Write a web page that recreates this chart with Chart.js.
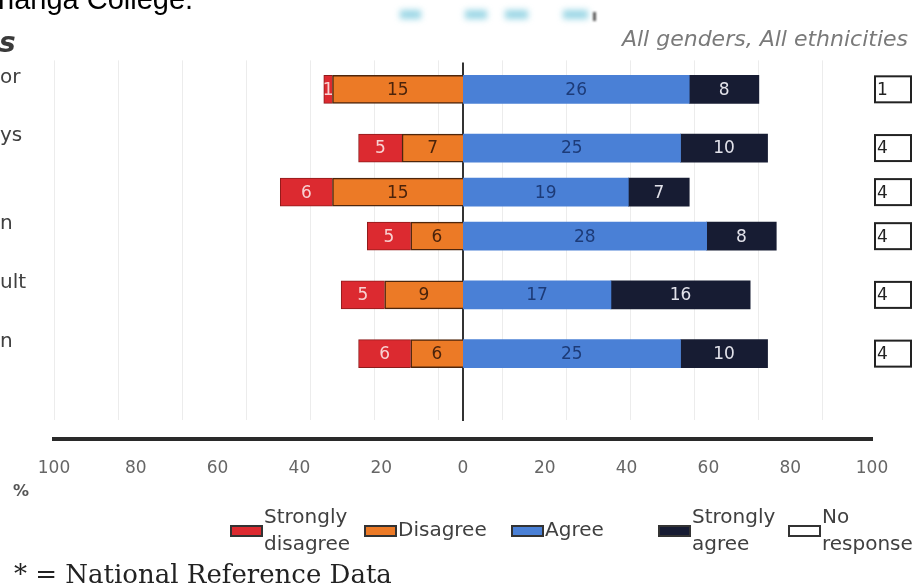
<!DOCTYPE html>
<html>
<head>
<meta charset="utf-8">
<script src="https://cdn.jsdelivr.net/npm/chart.js@4/dist/chart.umd.min.js"></script>
<style>
  html, body { margin: 0; padding: 0; background: #ffffff; }
  #wrap { width: 924px; height: 588px; position: relative; }
</style>
</head>
<body>
<div id="wrap"><canvas id="chart" width="924" height="588"></canvas></div>
<script>
// ---- data -------------------------------------------------------------
const categories = ['or', 'ys', '', 'n', 'ult', 'n'];
const stronglyDisagree = [1, 5, 6, 5, 5, 6];
const disagree = [15, 7, 15, 6, 9, 6];
const agree = [26, 25, 19, 28, 17, 25];
const stronglyAgree = [8, 10, 7, 8, 16, 10];
const noResponse = [1, 4, 4, 4, 4, 4];
const tickValues = [-100, -80, -60, -40, -20, 0, 20, 40, 60, 80, 100];
const legendLabels = [['Strongly', 'disagree'], ['Disagree'], ['Agree'], ['Strongly', 'agree'], ['No', 'response']];

// ---- layout & style ---------------------------------------------------
// vertical slot of each row (rows with longer captions sit further apart)
const rowSlot = [0, 4, 7, 10, 14, 18];
const SANS = '"DejaVu Sans", "Open Sans", sans-serif';

const colors = {
  stronglyDisagree: { fill: '#dc2a30', edge: '#8e1b1b', text: '#f8d2d2' },
  disagree:         { fill: '#ec7a26', edge: '#4e260c', text: '#4a230b' },
  agree:            { fill: '#4a80d6', edge: '#4a80d6', text: '#1d3b78' },
  stronglyAgree:    { fill: '#171c33', edge: '#171c33', text: '#e2e2ea' },
  noResponse:       { fill: '#ffffff', edge: '#222222', text: '#222222' }
};

const toPoints = (vals, sign) => vals.map((v, i) => ({ x: sign * v, y: rowSlot[i] }));

function barSet(label, vals, sign, c, border) {
  return {
    label,
    data: toPoints(vals, sign),
    backgroundColor: c.fill,
    borderColor: c.edge,
    borderWidth: border,
    textColor: c.text,
    barThickness: 28
  };
}

// negative side stacks outward from zero: Disagree first, then Strongly disagree
const datasets = [
  barSet('Disagree', disagree, -1, colors.disagree, 1.5),
  barSet('Strongly disagree', stronglyDisagree, -1, colors.stronglyDisagree, 1),
  barSet('Agree', agree, 1, colors.agree, 0),
  barSet('Strongly agree', stronglyAgree, 1, colors.stronglyAgree, 0)
];

// ---- drawing helpers --------------------------------------------------
const decorations = {
  id: 'decorations',
  beforeDraw(chart) {
    const ctx = chart.ctx;
    ctx.save();
    // heading fragments at the top edge
    ctx.fillStyle = '#000';
    ctx.font = '29px "Liberation Sans", Arial, sans-serif';
    ctx.textBaseline = 'alphabetic';
    ctx.textAlign = 'left';
    ctx.fillText('hanga College.', -2, 9);
    ctx.fillStyle = '#3a3a3a';
    ctx.font = 'italic bold 28px ' + SANS;
    ctx.fillText('s', -1, 52);

    // soft coloured strip above the panel
    ctx.filter = 'blur(3px)';
    ctx.fillStyle = 'rgba(120, 200, 220, 0.75)';
    [[400, 10, 21, 9], [465, 10, 22, 9], [505, 10, 23, 9], [563, 10, 25, 9]].forEach(r => ctx.fillRect(...r));
    ctx.filter = 'blur(1px)';
    ctx.fillStyle = 'rgba(50, 50, 50, 0.8)';
    ctx.fillRect(593, 12, 3, 9);
    ctx.filter = 'none';

    // caption fragments for each row
    const y = chart.scales.y;
    ctx.fillStyle = '#404040';
    ctx.font = '20px ' + SANS;
    ctx.textBaseline = 'middle';
    categories.forEach((t, i) => {
      if (t) ctx.fillText(t, 0, y.getPixelForValue(rowSlot[i]) - 12);
    });

    // axis unit
    ctx.fillStyle = '#555';
    ctx.font = 'bold 16px ' + SANS;
    ctx.fillText('%', 13, 492);

    // footnote
    ctx.fillStyle = '#222';
    ctx.font = '26px "DejaVu Serif", "Liberation Serif", serif';
    ctx.textBaseline = 'alphabetic';
    ctx.fillText('* = National Reference Data', 14, 583);
    ctx.restore();
  },
  beforeDatasetsDraw(chart) {
    // zero line
    const ctx = chart.ctx, area = chart.chartArea;
    const x0 = chart.scales.x.getPixelForValue(0);
    ctx.save();
    ctx.strokeStyle = '#333';
    ctx.lineWidth = 2;
    ctx.beginPath();
    ctx.moveTo(x0, area.top + 2);
    ctx.lineTo(x0, area.bottom + 1);
    ctx.stroke();
    ctx.restore();
  },
  afterDatasetsDraw(chart) {
    const ctx = chart.ctx, area = chart.chartArea;
    ctx.save();
    ctx.font = '17px ' + SANS;
    ctx.textAlign = 'center';
    ctx.textBaseline = 'middle';
    // value inside every segment
    chart.data.datasets.forEach((ds, di) => {
      const meta = chart.getDatasetMeta(di);
      ctx.fillStyle = ds.textColor;
      meta.data.forEach((bar, i) => {
        const v = Math.abs(ds.data[i].x);
        ctx.fillText(String(v), (bar.x + bar.base) / 2, bar.y + 1);
      });
    });
    // "No response" boxes to the right of the panel
    const y = chart.scales.y;
    ctx.textAlign = 'left';
    noResponse.forEach((v, i) => {
      const cy = y.getPixelForValue(rowSlot[i]);
      const x = area.right + 3;
      ctx.fillStyle = colors.noResponse.fill;
      ctx.fillRect(x, cy - 13, 36, 26);
      ctx.strokeStyle = colors.noResponse.edge;
      ctx.lineWidth = 2;
      ctx.strokeRect(x, cy - 13, 36, 26);
      ctx.fillStyle = colors.noResponse.text;
      ctx.fillText(String(v), x + 2, cy + 1);
    });
    ctx.restore();
  },
  afterDraw(chart) {
    // legend row
    const ctx = chart.ctx;
    const swatches = [
      colors.stronglyDisagree.fill, colors.disagree.fill, colors.agree.fill,
      colors.stronglyAgree.fill, colors.noResponse.fill
    ];
    const slotX = [231, 365, 512, 659, 789];
    const cy = 531;
    ctx.save();
    ctx.font = '20px ' + SANS;
    ctx.textAlign = 'left';
    ctx.textBaseline = 'middle';
    legendLabels.forEach((lines, i) => {
      const x = slotX[i];
      ctx.fillStyle = swatches[i];
      ctx.fillRect(x, cy - 5, 31, 10);
      ctx.strokeStyle = '#333';
      ctx.lineWidth = 2;
      ctx.strokeRect(x, cy - 5, 31, 10);
      ctx.fillStyle = '#404040';
      const lh = 27;
      const top = cy - (lines.length - 1) * lh / 2;
      lines.forEach((t, k) => ctx.fillText(t, x + 33, top + k * lh));
    });
    ctx.restore();
  }
};

new Chart(document.getElementById('chart'), {
  type: 'bar',
  data: { datasets },
  plugins: [decorations],
  options: {
    indexAxis: 'y',
    responsive: false,
    animation: false,
    events: [],
    layout: { padding: { left: 54, right: 16, top: 0, bottom: 109 } },
    plugins: {
      legend: { display: false },
      tooltip: { enabled: false },
      title: {
        display: true,
        text: 'All genders, All ethnicities',
        align: 'end',
        color: '#7a7a7a',
        font: { family: SANS, size: 22, style: 'italic', weight: 'normal' },
        padding: { top: 27, bottom: 7 }
      }
    },
    scales: {
      x: {
        type: 'linear', stacked: true, display: false,
        min: -47, max: 47
      },
      xg: {
        type: 'linear', position: 'bottom', weight: 0,
        min: 0, max: 818 / 64,
        ticks: { display: false, stepSize: 1, includeBounds: false },
        grid: { color: '#ececec', lineWidth: 1, drawTicks: false },
        border: { display: false },
        afterFit: s => { s.height = 19; }
      },
      x2: {
        type: 'linear', position: 'bottom', weight: 1,
        min: -100, max: 100,
        afterBuildTicks: s => { s.ticks = tickValues.map(value => ({ value })); },
        ticks: {
          callback: v => String(Math.abs(v)),
          color: '#666', padding: 19,
          font: { family: SANS, size: 17 },
          maxRotation: 0, autoSkip: false
        },
        grid: { drawOnChartArea: false, drawTicks: false },
        border: { display: true, color: '#2a2a2a', width: 4 },
        afterFit: s => { s.height = 40; }
      },
      y: {
        type: 'linear', stacked: true, display: false, reverse: true,
        offset: false, grid: { offset: false },
        min: -1.97, max: 22.52
      },
      yR: {
        type: 'linear', position: 'right',
        ticks: { display: false },
        grid: { display: false },
        border: { display: false },
        afterFit: s => { s.width = 36; }
      }
    }
  }
});
</script>
</body>
</html>
